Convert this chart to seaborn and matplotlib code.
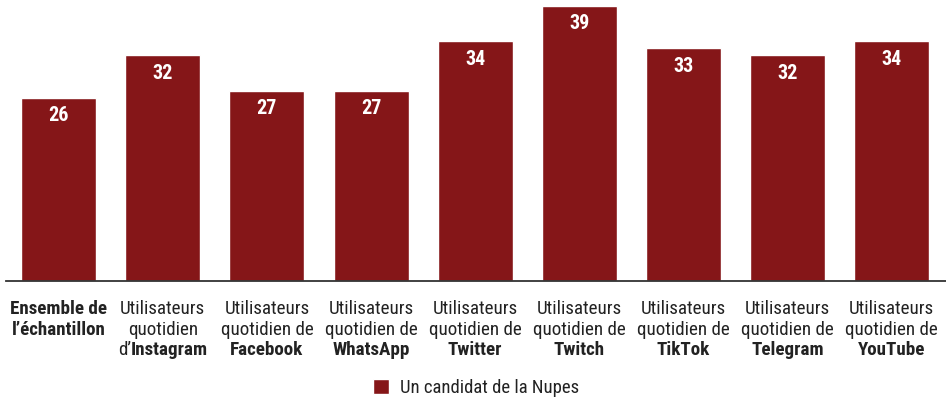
import matplotlib
matplotlib.use("Agg")
import matplotlib.pyplot as plt
from matplotlib import font_manager
import seaborn as sns
import pandas as pd
from matplotlib.offsetbox import TextArea, HPacker, VPacker, AnnotationBbox

categories = ["Ensemble", "Instagram", "Facebook", "WhatsApp", "Twitter",
              "Twitch", "TikTok", "Telegram", "YouTube"]
values = [26, 32, 27, 27, 34, 39, 33, 32, 34]
# tick labels: list of lines, each line a list of (text, bold) pieces
tick_labels = [
    [[("Ensemble de", True)], [("l\u2019échantillon", True)]],
    [[("Utilisateurs", False)], [("quotidien", False)], [("d\u2019", False), ("Instagram", True)]],
    [[("Utilisateurs", False)], [("quotidien de", False)], [("Facebook", True)]],
    [[("Utilisateurs", False)], [("quotidien de", False)], [("WhatsApp", True)]],
    [[("Utilisateurs", False)], [("quotidien de", False)], [("Twitter", True)]],
    [[("Utilisateurs", False)], [("quotidien de", False)], [("Twitch", True)]],
    [[("Utilisateurs", False)], [("quotidien de", False)], [("TikTok", True)]],
    [[("Utilisateurs", False)], [("quotidien de", False)], [("Telegram", True)]],
    [[("Utilisateurs", False)], [("quotidien de", False)], [("YouTube", True)]],
]
series_name = "Un candidat de la Nupes"

sns.set_style("white")

# pick a condensed font if one is installed
names = {(f.name, f.stretch) for f in font_manager.fontManager.ttflist}
fam_names = {n for n, _ in names}
FAM, STRETCH, SCALE = None, "normal", 0.88
for cand in ["Roboto Condensed", "Liberation Sans Narrow", "Open Sans Condensed",
             "Noto Sans Condensed", "DejaVu Sans Condensed"]:
    if cand in fam_names:
        FAM, SCALE = cand, 1.0
        break
if FAM is None:
    for base in ["DejaVu Sans", "Noto Sans", "Open Sans", "Roboto"]:
        if any(n == base and s in ("condensed", "semi-condensed", 75, 87.5, 62.5) for n, s in names):
            FAM, STRETCH, SCALE = base, "condensed", 0.96
            break
if FAM is None:
    FAM = "Roboto"
FAMS = [FAM, "DejaVu Sans"]
plt.rcParams["font.family"] = FAMS
plt.rcParams["font.stretch"] = STRETCH
FS = 13.7 * SCALE
FS_VAL = 14.5 * SCALE
FS_LEG = 13.5 * SCALE

color = "#851618"
df = pd.DataFrame({"cat": categories, "val": values, "series": series_name})

fig = plt.figure(figsize=(9.46, 4.01), dpi=100)
ax = fig.add_axes([6 / 946, 1 - 281 / 401, 940 / 946, 281 / 401])
sns.barplot(data=df, x="cat", y="val", hue="series", palette=[color],
            width=0.72, ax=ax, legend=True, saturation=1)

ax.set_xlim(-0.505, 8.52)
ax.set_ylim(0, 39.85)
ax.set_xlabel("")
ax.set_ylabel("")
ax.set_xticks([])
ax.set_yticks([])
for s in ["top", "right", "left"]:
    ax.spines[s].set_visible(False)
ax.spines["bottom"].set_color("#333333")
ax.spines["bottom"].set_linewidth(1.3)

for i, v in enumerate(values):
    ax.annotate(f"{v}", xy=(i, v), xytext=(0, -6), textcoords="offset points",
                ha="center", va="top", color="white", fontsize=FS_VAL,
                fontweight="bold", family=FAMS, fontstretch=STRETCH)

for i, lines in enumerate(tick_labels):
    rows = []
    for line in lines:
        parts = [TextArea(t, textprops=dict(fontsize=FS, color="#222222",
                                            fontweight="bold" if b else "normal",
                                            family=FAMS, fontstretch=STRETCH))
                 for t, b in line]
        rows.append(HPacker(children=parts, align="baseline", pad=0, sep=0))
    box = VPacker(children=rows, align="center", pad=0, sep=1.6)
    ab = AnnotationBbox(box, xy=(i, 0), xycoords=("data", "axes fraction"),
                        xybox=(0, -14), boxcoords="offset points",
                        box_alignment=(0.5, 1), frameon=False, pad=0,
                        annotation_clip=False)
    ax.add_artist(ab)

leg = ax.legend(loc="center", bbox_to_anchor=(0.503, 13 / 401), bbox_transform=fig.transFigure,
                frameon=False, fontsize=FS_LEG, handlelength=0.85, handleheight=0.85,
                handletextpad=0.6)
for t in leg.get_texts():
    t.set_color("#222222")
    t.set_fontstretch(STRETCH)

fig.savefig("out.png", dpi=100)
